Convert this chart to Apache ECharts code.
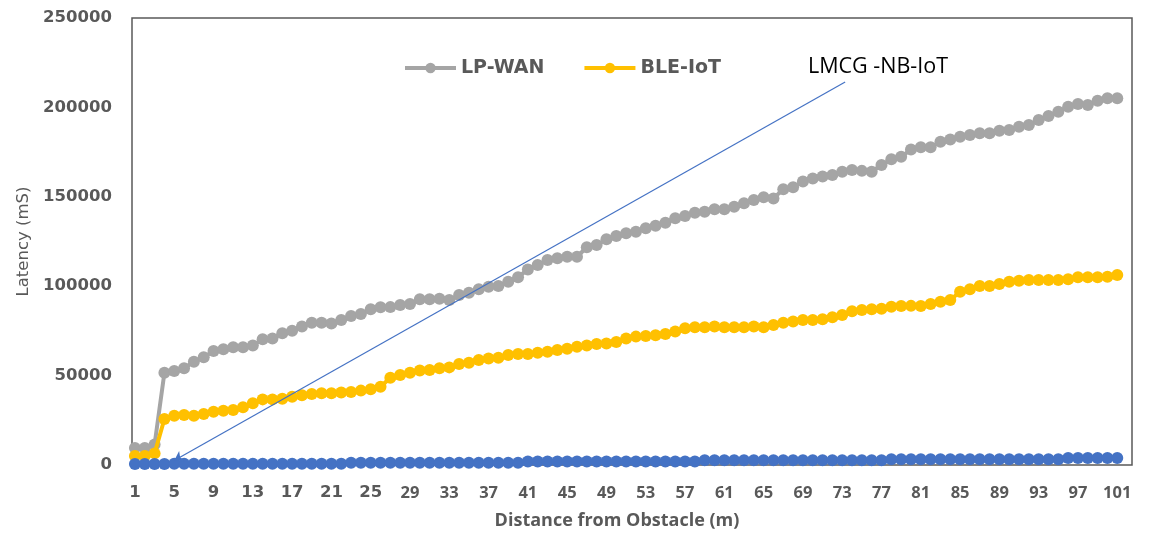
<!DOCTYPE html>
<html>
<head>
<meta charset="utf-8">
<script src="https://cdn.jsdelivr.net/npm/echarts@6/dist/echarts.min.js"></script>
<style>
  html, body { margin: 0; padding: 0; background: #fff; }
  #chart { width: 1155px; height: 537px; }
</style>
</head>
<body>
<div id="chart"></div>
<script>
// Distance from obstacle (m)
const distances = [
  1, 2, 3, 4, 5, 6, 7, 8, 9, 10, 11, 12, 13, 14, 15, 16, 17, 18, 19, 20,
  21, 22, 23, 24, 25, 26, 27, 28, 29, 30, 31, 32, 33, 34, 35, 36, 37, 38, 39, 40,
  41, 42, 43, 44, 45, 46, 47, 48, 49, 50, 51, 52, 53, 54, 55, 56, 57, 58, 59, 60,
  61, 62, 63, 64, 65, 66, 67, 68, 69, 70, 71, 72, 73, 74, 75, 76, 77, 78, 79, 80,
  81, 82, 83, 84, 85, 86, 87, 88, 89, 90, 91, 92, 93, 94, 95, 96, 97, 98, 99, 100,
  101
];

// Latency (mS) per technology
const lpWan = [
  9500, 9500, 11500, 51600, 52600, 54100, 57800, 60200, 63800, 64700,
  65800, 65800, 66900, 70300, 70700, 73700, 75100, 77400, 79600, 79600,
  79200, 81100, 83300, 84400, 87100, 88200, 88300, 89500, 90000, 92700,
  92700, 93000, 92300, 95100, 96400, 98300, 99700, 100100, 102500, 105000,
  109400, 111900, 114700, 115600, 116500, 116500, 121800, 123000, 126200, 128100,
  129600, 130500, 132400, 133800, 135500, 138000, 139300, 141100, 141700, 143000,
  143000, 144500, 146400, 148200, 149700, 149100, 154200, 155300, 158500, 160300,
  161300, 162200, 164000, 165000, 164500, 164000, 167800, 171000, 172400, 176400,
  177700, 177700, 180800, 182100, 183600, 184600, 185500, 185500, 187000, 187400,
  189200, 190200, 193000, 195200, 197600, 200400, 201900, 201300, 203700, 205100,
  205100
];

const bleIot = [
  5000, 5000, 6500, 25700, 27600, 28000, 27600, 28500, 29800, 30400,
  30800, 32300, 34500, 36700, 36700, 37100, 38200, 39000, 39700, 40100,
  40100, 40500, 40800, 41600, 42300, 43800, 48800, 50300, 51600, 52800,
  53100, 54100, 54600, 56500, 57200, 58700, 59500, 60000, 61500, 62100,
  62100, 62800, 63400, 64300, 65000, 66200, 66900, 67700, 68000, 68800,
  70800, 71800, 72200, 72600, 73300, 74600, 76500, 77000, 77000, 77400,
  77000, 77000, 77000, 77400, 77000, 78300, 79600, 80200, 81100, 81100,
  81500, 82600, 83900, 86000, 86700, 87100, 87400, 88500, 88900, 89000,
  88900, 90000, 91300, 92300, 96900, 98300, 100100, 100100, 101200, 102500,
  103100, 103500, 103500, 103500, 103500, 103900, 105000, 105000, 105000, 105300,
  106300
];

const lmcgNbIot = [
  500, 500, 500, 500, 700, 700, 700, 700, 700, 700,
  700, 700, 700, 700, 700, 700, 700, 700, 700, 700,
  700, 700, 1300, 1300, 1300, 1300, 1300, 1300, 1300, 1300,
  1300, 1300, 1300, 1300, 1300, 1300, 1300, 1300, 1300, 1300,
  1900, 1900, 1900, 1900, 1900, 1900, 1900, 1900, 1900, 1900,
  1900, 1900, 1900, 1900, 1900, 1900, 1900, 1900, 2600, 2600,
  2600, 2600, 2600, 2600, 2600, 2600, 2600, 2600, 2600, 2600,
  2600, 2600, 2600, 2600, 2600, 2600, 2600, 3200, 3200, 3200,
  3200, 3200, 3200, 3200, 3200, 3200, 3200, 3200, 3200, 3200,
  3200, 3200, 3200, 3200, 3200, 3900, 3900, 3900, 3900, 3900,
  3900
];

// Labelled distances on the horizontal axis
const xTickLabels = [1, 5, 9, 13, 17, 21, 25, 29, 33, 37, 41, 45, 49, 53, 57, 61, 65, 69, 73, 77, 81, 85, 89, 93, 97, 101];

// Callout from the LMCG -NB-IoT caption down to its series
const calloutFrom = [5, 2500];
const calloutTo = [73.3, 214200];

const pairs = (ys) => distances.map((d, i) => [d, ys[i]]);

const GREY = '#A5A5A5';
const GOLD = '#FFC000';
const BLUE = '#4472C4';
const TEXT = '#595959';

const chart = echarts.init(document.getElementById('chart'));
chart.setOption({
  animation: false,
  backgroundColor: '#ffffff',
  title: {
    text: 'LMCG -NB-IoT',
    left: 808,
    top: 56,
    padding: 0,
    textStyle: {
      fontFamily: 'Open Sans',
      fontSize: 21.5,
      fontWeight: 'normal',
      color: '#000000'
    }
  },
  legend: {
    data: ['LP-WAN', 'BLE-IoT'],
    left: 403,
    top: 57,
    padding: 0,
    itemWidth: 51,
    itemHeight: 13,
    itemGap: 38,
    lineStyle: { width: 4 },
    textStyle: {
      fontFamily: 'DejaVu Sans',
      fontWeight: 'bold',
      fontSize: 19,
      lineHeight: 22,
      color: TEXT
    }
  },
  grid: {
    left: 132,
    right: 23,
    top: 18,
    bottom: 72,
    show: true,
    borderColor: '#595959',
    borderWidth: 1.5,
    containLabel: false
  },
  xAxis: {
    type: 'value',
    min: 0.7,
    max: 102.5,
    name: 'Distance from Obstacle (m)',
    nameLocation: 'middle',
    nameGap: 47,
    nameTextStyle: {
      fontFamily: 'Open Sans',
      fontWeight: 'bold',
      fontSize: 18,
      color: TEXT,
      padding: [0, 30, 0, 0]
    },
    axisLine: { show: false },
    axisTick: { show: false },
    splitLine: { show: false },
    axisLabel: {
      customValues: xTickLabels,
      margin: 19,
      formatter: (v) => (v <= 25 ? '{b|' + v + '}' : '{n|' + v + '}'),
      rich: {
        b: { fontFamily: 'DejaVu Sans', fontWeight: 'bold', fontSize: 16.5, lineHeight: 18, color: TEXT },
        n: { fontFamily: 'Open Sans', fontWeight: 'bold', fontSize: 16.5, lineHeight: 18, color: TEXT }
      }
    }
  },
  yAxis: {
    type: 'value',
    min: 0,
    max: 250000,
    interval: 50000,
    name: 'Latency (mS)',
    nameLocation: 'middle',
    nameGap: 100,
    nameTextStyle: {
      fontFamily: 'DejaVu Sans',
      fontSize: 16.5,
      color: TEXT
    },
    axisLine: { show: false },
    axisTick: { show: false },
    splitLine: { show: false },
    axisLabel: {
      margin: 20,
      fontFamily: 'DejaVu Sans',
      fontWeight: 'bold',
      fontSize: 16.5,
      color: TEXT,
      formatter: (v) => String(v)
    }
  },
  series: [
    {
      name: 'LP-WAN',
      type: 'line',
      data: pairs(lpWan),
      symbol: 'circle',
      symbolSize: 12,
      itemStyle: { color: GREY },
      lineStyle: { color: GREY, width: 4 },
      z: 2
    },
    {
      name: 'BLE-IoT',
      type: 'line',
      data: pairs(bleIot),
      symbol: 'circle',
      symbolSize: 12,
      itemStyle: { color: GOLD },
      lineStyle: { color: GOLD, width: 4 },
      z: 3
    },
    {
      name: 'LMCG -NB-IoT',
      type: 'line',
      data: pairs(lmcgNbIot),
      symbol: 'circle',
      symbolSize: 12,
      itemStyle: { color: BLUE },
      lineStyle: { color: BLUE, width: 4 },
      z: 4,
      markLine: {
        silent: true,
        animation: false,
        label: { show: false },
        lineStyle: { color: BLUE, width: 1.2, type: 'solid' },
        data: [[
          { coord: calloutFrom, symbol: 'arrow', symbolSize: 9 },
          { coord: calloutTo, symbol: 'none' }
        ]]
      }
    }
  ]
});
</script>
</body>
</html>
